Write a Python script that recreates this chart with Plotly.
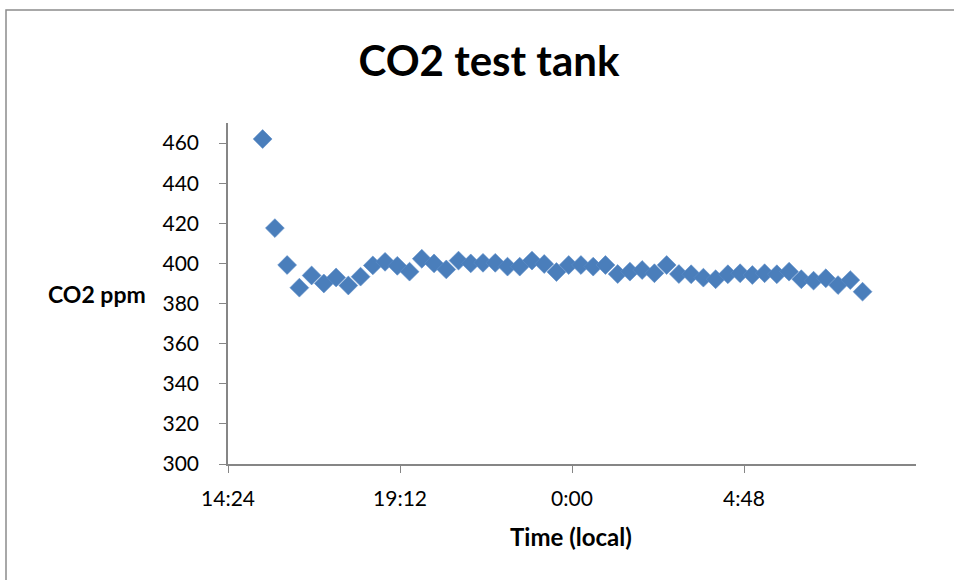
import plotly.graph_objects as go

times = [
    "2013-01-01 15:22:00", "2013-01-01 15:42:30", "2013-01-01 16:03:00", "2013-01-01 16:23:30",
    "2013-01-01 16:44:00", "2013-01-01 17:04:30", "2013-01-01 17:25:00", "2013-01-01 17:45:30",
    "2013-01-01 18:06:00", "2013-01-01 18:26:30", "2013-01-01 18:47:00", "2013-01-01 19:07:30",
    "2013-01-01 19:28:00", "2013-01-01 19:48:30", "2013-01-01 20:09:00", "2013-01-01 20:29:30",
    "2013-01-01 20:50:00", "2013-01-01 21:10:30", "2013-01-01 21:31:00", "2013-01-01 21:51:30",
    "2013-01-01 22:12:00", "2013-01-01 22:32:30", "2013-01-01 22:53:00", "2013-01-01 23:13:30",
    "2013-01-01 23:34:00", "2013-01-01 23:54:30", "2013-01-02 00:15:00", "2013-01-02 00:35:30",
    "2013-01-02 00:56:00", "2013-01-02 01:16:30", "2013-01-02 01:37:00", "2013-01-02 01:57:30",
    "2013-01-02 02:18:00", "2013-01-02 02:38:30", "2013-01-02 02:59:00", "2013-01-02 03:19:30",
    "2013-01-02 03:40:00", "2013-01-02 04:00:30", "2013-01-02 04:21:00", "2013-01-02 04:41:30",
    "2013-01-02 05:02:00", "2013-01-02 05:22:30", "2013-01-02 05:43:00", "2013-01-02 06:03:30",
    "2013-01-02 06:24:00", "2013-01-02 06:44:30", "2013-01-02 07:05:00", "2013-01-02 07:25:30",
    "2013-01-02 07:46:00", "2013-01-02 08:06:30",
]

co2_ppm = [
    462, 417.6, 399.2, 387.9, 394, 390, 393, 389, 393.4, 399,
    400.8, 398.8, 395.9, 402.3, 400, 397, 401.4, 400.0, 400.3, 400.3,
    398.4, 398.4, 401.4, 399.7, 395.7, 399.2, 399.2, 398.4, 399.2, 394.7,
    395.9, 396.7, 395.1, 399.2, 394.7, 394.6, 392.9, 392.1, 394.6, 395.1,
    394.2, 395.1, 394.6, 395.9, 392.1, 391.4, 392.6, 389.2, 391.7, 385.9,
]

x_tick_vals = ["2013-01-01 14:24", "2013-01-01 19:12", "2013-01-02 00:00", "2013-01-02 04:48"]
x_tick_text = ["14:24", "19:12", "0:00", "4:48"]
x_range = ["2013-01-01 14:24", "2013-01-02 09:36"]
y_tick_vals = [300, 320, 340, 360, 380, 400, 420, 440, 460]
y_range = [300, 470]

FONT = "Lato"
AXIS_COLOR = "#868686"

fig = go.Figure()
fig.add_trace(go.Scatter(
    x=times, y=co2_ppm, mode="markers",
    marker=dict(symbol="diamond", size=14.5, color="#4A7EBB",
                line=dict(width=0.6, color="#5B8CC8")),
    showlegend=False,
))

W, H = 954, 580
L, R, T, B = 228, 38, 123, 116
pw, ph = W - L - R, H - T - B

fig.update_layout(
    width=W, height=H,
    margin=dict(l=L, r=R, t=T, b=B),
    paper_bgcolor="white", plot_bgcolor="white",
    font=dict(family=FONT, color="black"),
    title=dict(text="<b>CO2 test tank</b>", x=489 / W, xref="container",
               y=1 - 61 / H, yref="container", xanchor="center", yanchor="middle",
               font=dict(size=42, family=FONT, color="black")),
    xaxis=dict(
        type="date", range=x_range, tickvals=x_tick_vals, ticktext=x_tick_text,
        showgrid=False, zeroline=False, showline=True, linecolor=AXIS_COLOR, linewidth=1.5,
        ticks="outside", ticklen=7, tickwidth=1.2, tickcolor=AXIS_COLOR,
        tickfont=dict(size=21, family=FONT, color="black"), ticklabelstandoff=8,
    ),
    yaxis=dict(
        range=y_range, tickvals=y_tick_vals,
        showgrid=False, zeroline=False, showline=True, linecolor=AXIS_COLOR, linewidth=1.5,
        ticks="outside", ticklen=7, tickwidth=1.2, tickcolor=AXIS_COLOR,
        tickfont=dict(size=21, family=FONT, color="black"), ticklabelstandoff=16,
    ),
    annotations=[
        dict(text="<b>CO2 ppm</b>", xref="paper", yref="paper",
             x=(148 - L) / pw, y=(H - B - 294) / ph, xanchor="right", yanchor="middle",
             showarrow=False, font=dict(size=23, family=FONT, color="black")),
        dict(text="<b>Time (local)</b>", xref="paper", yref="paper",
             x=(571 - L) / pw, y=(H - B - 536) / ph, xanchor="center", yanchor="middle",
             showarrow=False, font=dict(size=24, family=FONT, color="black")),
    ],
    shapes=[
        dict(type="rect", xref="paper", yref="paper",
             x0=(6 - L) / pw, x1=(W + 5 - L) / pw, y0=(H - B - (H + 5)) / ph, y1=(H - B - 10) / ph,
             line=dict(color="#8C8C8C", width=1.5), fillcolor="rgba(0,0,0,0)", layer="below"),
    ],
)

fig.write_html("out.html")
